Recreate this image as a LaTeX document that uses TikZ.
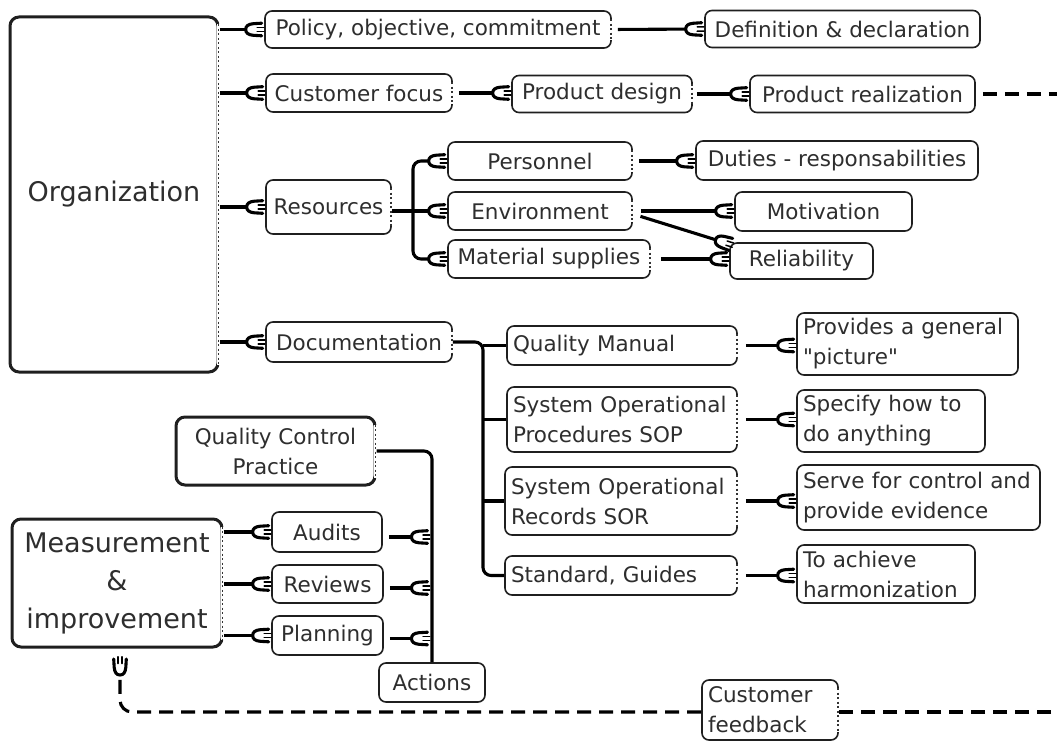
\documentclass[tikz,border=0pt]{standalone}
\usepackage{fontspec}
\setmainfont{DejaVu Sans}
\newfontfamily\plainq{DejaVu Sans}
\usetikzlibrary{arrows.meta,calc}
\pgfdeclarearrow{
  name=Plug,
  setup code={
    \pgfarrowssettipend{0pt}
    \pgfarrowssetlineend{-18pt}
    \pgfarrowssetbackend{-20pt}
    \pgfarrowssetvisualbackend{-18pt}
  },
  drawing code={
    \pgfsetdash{}{0pt}
    \pgfsetroundjoin
    \pgfsetroundcap
    \pgfpathmoveto{\pgfqpoint{-2.5pt}{6.3pt}}
    \pgfpathlineto{\pgfqpoint{-11pt}{5.8pt}}
    \pgfpathcurveto{\pgfqpoint{-16pt}{5.3pt}}{\pgfqpoint{-18.5pt}{3.5pt}}{\pgfqpoint{-18.5pt}{0pt}}
    \pgfpathcurveto{\pgfqpoint{-18.5pt}{-3.5pt}}{\pgfqpoint{-16pt}{-5.3pt}}{\pgfqpoint{-11pt}{-5.8pt}}
    \pgfpathlineto{\pgfqpoint{-2.5pt}{-6.3pt}}
    \pgfusepathqstroke
    \pgfsetlinewidth{1.5pt}
    \pgfpathmoveto{\pgfqpoint{-0.3pt}{2.2pt}}
    \pgfpathlineto{\pgfqpoint{-7pt}{2.2pt}}
    \pgfpathmoveto{\pgfqpoint{-0.3pt}{-2.2pt}}
    \pgfpathlineto{\pgfqpoint{-7pt}{-2.2pt}}
    \pgfusepathqstroke
  },
}
\begin{document}
\begin{tikzpicture}[x=1pt,y=-1pt,
  box/.style={draw=black!88, line width=1.6pt, rounded corners=7pt, fill=white,
    text=black!82, font=\fontsize{21.5pt}{30pt}\selectfont, inner sep=0pt, align=center},
  big/.style={box, line width=3pt, rounded corners=9pt},
  bigfont/.style={font=\fontsize{27pt}{38pt}\selectfont},
  lbox/.style={box, align=left, text width=#1pt},
  sz/.style 2 args={minimum width=#1pt, minimum height=#2pt},
  conn/.style={draw=black, line width=3.1pt},
  pl/.style={conn, -Plug},
  dsh/.style={conn, dash pattern=on 14pt off 8pt}
]
\useasboundingbox (0,0) rectangle (1057,743);
% nodes
\node[big, bigfont, sz={208}{355}] (org) at (114,194.5) {Organization};
\node[box, sz={346}{37}] (pol) at (438,29.5) {Policy, objective, commitment};
\node[box, sz={275}{37}] (def) at (842.5,29) {Definition \& declaration};
\node[box, sz={186}{38}] (cf) at (359,93) {Customer focus};
\node[box, sz={180}{37}] (pd) at (602,94) {Product design};
\node[box, sz={225}{37}] (pr) at (862.5,94) {Product realization};
\node[box, sz={125}{54}] (res) at (328.5,207) {Resources};
\node[box, sz={184}{38}] (per) at (540,161) {Personnel};
\node[box, sz={184}{38}] (env) at (540,211) {Environment};
\node[box, sz={202}{38}] (mat) at (549,259) {Material supplies};
\node[box, sz={282}{39}] (dut) at (837,160.5) {Duties - responsabilities};
\node[box, sz={177}{39}] (mot) at (823.5,211.5) {Motivation};
\node[box, sz={143}{36}] (rel) at (801.5,261) {Reliability};
\node[box, sz={186}{40}] (doc) at (359,342) {Documentation};
\node[lbox=218, sz={230}{39}] (qm) at (622,345.5) {Quality Manual};
\node[lbox=218, sz={230}{65}] (sop) at (622,419.5) {System Operational\\Procedures SOP};
\node[lbox=220, sz={232}{68}] (sor) at (621,501) {System Operational\\Records SOR};
\node[lbox=220, sz={232}{39}] (std) at (621,575.5) {Standard, Guides};
\node[lbox=209, sz={221}{62}] (prv) at (907.5,344) {Provides a general\\{\plainq"}picture{\plainq"}};
\node[lbox=176, sz={188}{62}] (spc) at (891,421) {Specify how to\\do anything};
\node[lbox=231, sz={243}{65}] (srv) at (918.5,497.5) {Serve for control and\\provide evidence};
\node[lbox=166, sz={178}{58}] (ach) at (886,574) {To achieve\\harmonization};
\node[big, sz={199}{68}] (qcp) at (275.5,451) {Quality Control\\Practice};
\node[big, bigfont, sz={210}{128}] (meas) at (117,583) {Measurement\\\&\\improvement};
\node[box, sz={110}{40}] (aud) at (327,532) {Audits};
\node[box, sz={111}{38}] (rev) at (327.5,584) {Reviews};
\node[box, sz={111}{39}] (pln) at (327.5,635.5) {Planning};
\node[box, sz={106}{39}] (act) at (432,682.5) {Actions};
\node[lbox=124, sz={136}{60}] (fb) at (770,710) {Customer\\feedback};
% dotted right edges
\foreach \n in {org,pol,cf,pd,res,per,env,mat,doc,qm,sop,sor,std,qcp,meas,fb}{
  \draw[white, line width=4pt] ([xshift=-1pt,yshift=-9pt]\n.north east) -- ([xshift=-1pt,yshift=9pt]\n.south east);
  \draw[black!80, line width=1.7pt, dash pattern=on 2pt off 2.5pt] ([xshift=-1pt,yshift=-9pt]\n.north east) -- ([xshift=-1pt,yshift=9pt]\n.south east);
}
% coordinates
\coordinate (rb) at (413,210);
\coordinate (db) at (483,342);
\coordinate (fbl) at (0,712);
\coordinate (edgeA) at (1057,94);
\coordinate (edgeB) at (1057,712);
% organization branches
\draw[pl] (org.east |- pol.west) -- (pol.west);
\draw[pl] (org.east |- cf.west) -- (cf.west);
\draw[pl] (org.east |- res.west) -- (res.west);
\draw[pl] (org.east |- doc.west) -- (doc.west);
\draw[pl, shorten <=6pt] (pol.east) -- (def.west);
\draw[pl, shorten <=6pt] (cf.east) -- (cf.east -| pd.west);
\draw[pl, shorten <=4pt] (pd.east) -- (pr.west);
\draw[dsh, shorten <=7pt] (pr.east) -- (edgeA);
% resources
\draw[conn, Plug-Plug, rounded corners=8pt] (per.west) -| (rb) |- (mat.west);
\draw[pl] (res.east |- env.west) -- (env.west);
\draw[pl, shorten <=6pt] (per.east) -- (per.east -| dut.west);
\draw[pl, shorten <=8pt] (env.east) -- (env.east -| mot.west);
\draw[pl, shorten <=8pt] ([yshift=-3pt]env.east) -- ($(rel.north west)+(4,3)$);
\draw[pl, shorten <=10pt] (mat.east) -- (mat.east -| rel.west);
% documentation
\draw[conn, rounded corners=8pt] (doc.east) -| (db |- std.west) -- (std.west);
\draw[conn] (db |- qm.west) -- (qm.west);
\draw[conn] (db |- sop.west) -- (sop.west);
\draw[conn] (db |- sor.west) -- (sor.west);
\draw[pl, shorten <=8pt] (qm.east) -- (qm.east -| prv.west);
\draw[pl, shorten <=8pt] (sop.east) -- (sop.east -| spc.west);
\draw[pl, shorten <=8pt] (sor.east) -- (sor.east -| srv.west);
\draw[pl, shorten <=8pt] (std.east) -- (std.east -| ach.west);
% measurement
\draw[conn, rounded corners=8pt] (qcp.east) -| (act.north);
\draw[pl] (meas.east |- aud.west) -- (aud.west);
\draw[pl] (meas.east |- rev.west) -- (rev.west);
\draw[pl] (meas.east |- pln.west) -- (pln.west);
\draw[pl, shorten <=6pt, shorten >=2pt] ([yshift=-5pt]aud.east) -- ([yshift=-5pt]aud.east -| act.north);
\draw[pl, shorten <=6pt, shorten >=2pt] ([yshift=-4pt]rev.east) -- ([yshift=-4pt]rev.east -| act.north);
\draw[pl, shorten <=6pt, shorten >=2pt] ([yshift=-3pt]pln.east) -- ([yshift=-3pt]pln.east -| act.north);
% customer feedback
\draw[dsh, shorten <=6pt] (edgeB) -- (fb.east |- fbl);
\draw[dsh, -Plug, rounded corners=12pt, shorten >=8pt] (fb.west |- fbl) -| ([xshift=3pt]meas.south);
\end{tikzpicture}
\end{document}
